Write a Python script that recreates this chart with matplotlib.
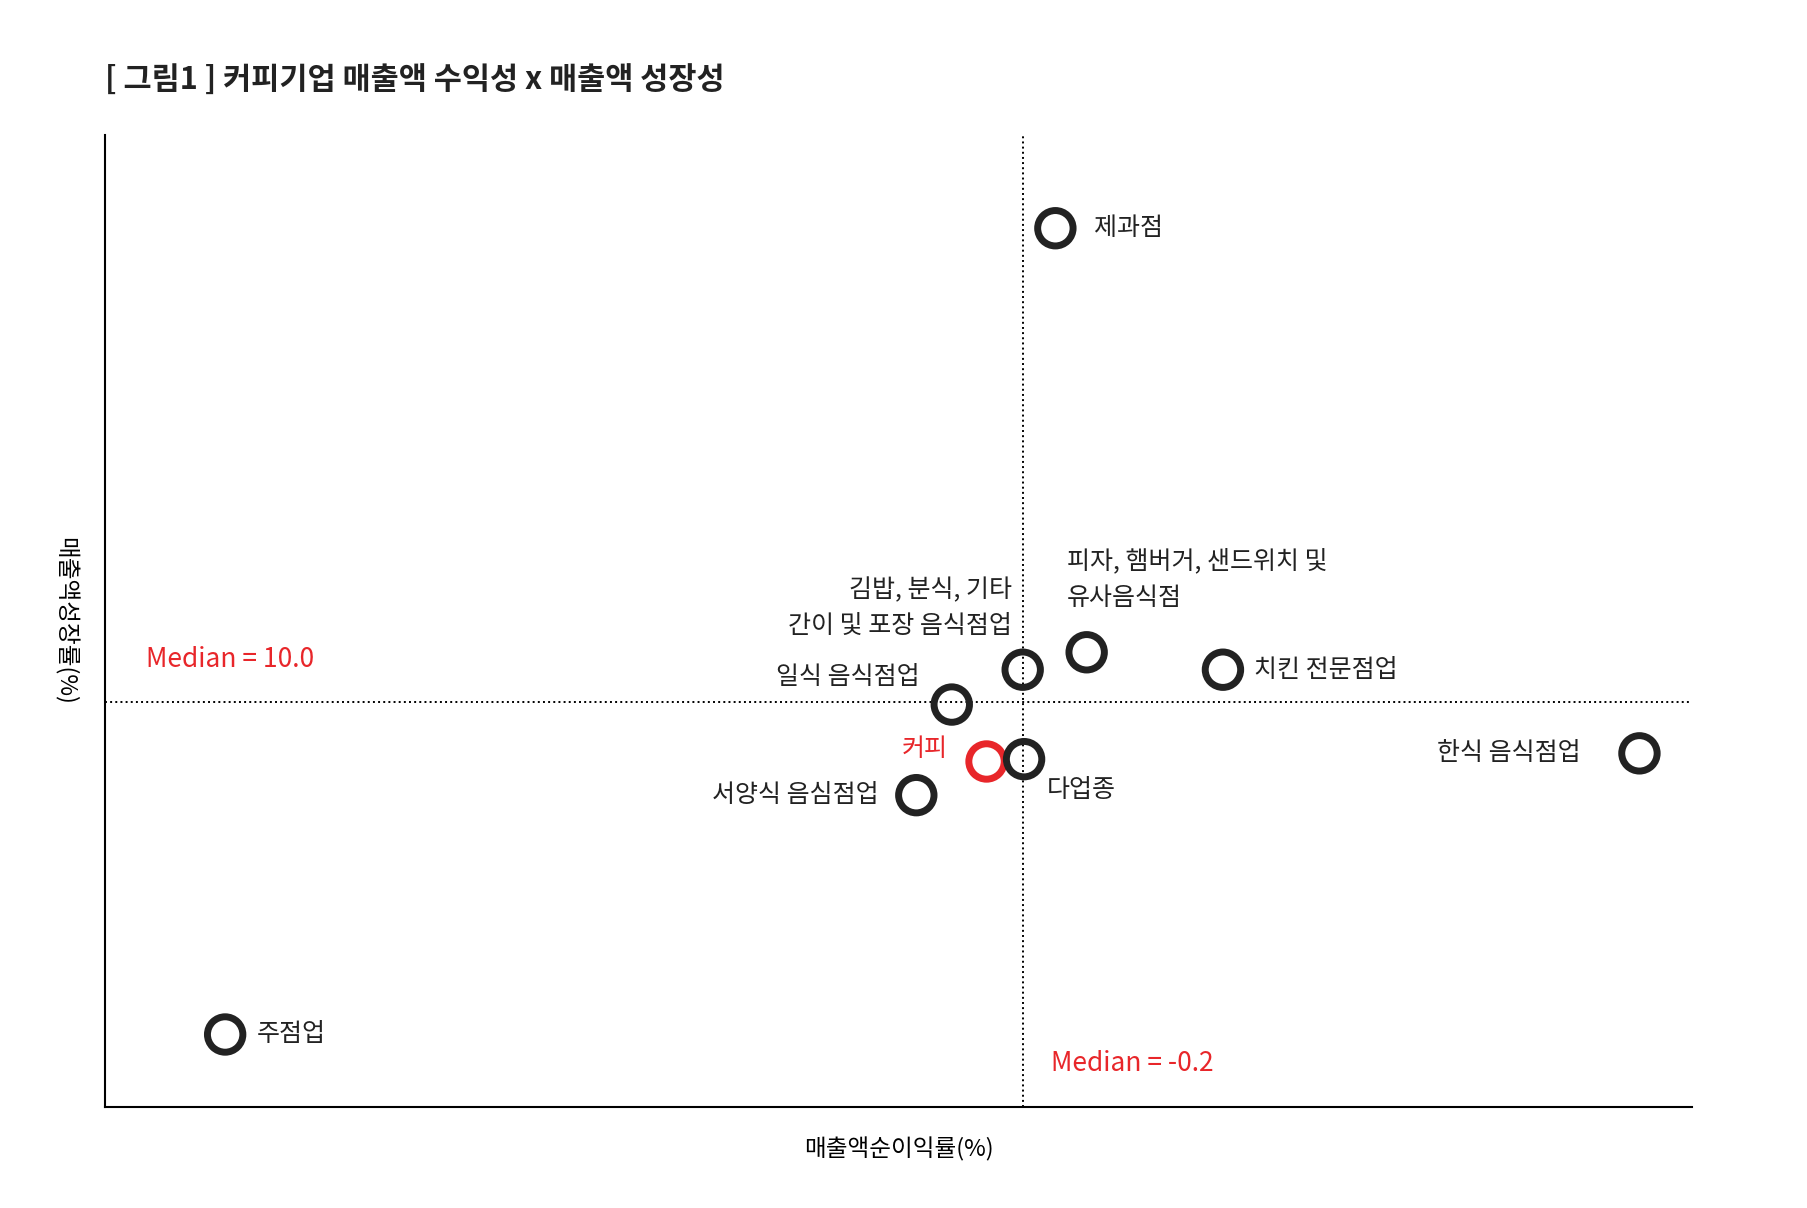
import matplotlib
matplotlib.use("Agg")
import matplotlib.pyplot as plt

plt.rcParams['font.family'] = ['Noto Sans CJK KR', 'DejaVu Sans']

# 업종별 매출액순이익률(%) / 매출액성장률(%) (그림에서 추정)
names = ['제과점', '피자, 햄버거, 샌드위치 및\n유사음식점', '김밥, 분식, 기타\n간이 및 포장 음식점업',
         '치킨 전문점업', '일식 음식점업', '커피', '다업종', '서양식 음심점업', '한식 음식점업', '주점업']
profit = [0.27, 0.72, -0.2, 2.68, -1.22, -0.72, -0.18, -1.73, 8.67, -11.67]
growth = [30.4, 12.15, 11.4, 11.4, 9.9, 7.45, 7.55, 6.0, 7.8, -4.3]
median_x = -0.2
median_y = 10.0

# label offsets (points) and alignment
offsets = [(28, 0, 'left', 'center'), (-14, 30, 'left', 'bottom'), (-8, 22, 'right', 'bottom'),
           (22, 0, 'left', 'center'), (-23, 20, 'right', 'center'), (-28, 9, 'right', 'center'),
           (16, -22, 'left', 'center'), (-27, 0, 'right', 'center'), (-42, 0, 'right', 'center'),
           (23, 0, 'left', 'center')]

red = '#e8262a'
dark = '#222222'

fig = plt.figure(figsize=(18.08, 12.08), dpi=100)
ax = fig.add_axes([0.058, 0.084, 0.878, 0.804])

ax.axvline(median_x, color='black', ls=':', lw=1.4, zorder=1)
ax.axhline(median_y, color='black', ls=':', lw=1.4, zorder=1)

for n, x, y, (dx, dy, ha, va) in zip(names, profit, growth, offsets):
    c = red if n == '커피' else dark
    ax.scatter(x, y, s=650, facecolor='none', edgecolor=c, linewidth=5, zorder=3)
    ax.annotate(n, (x, y), xytext=(dx, dy), textcoords='offset points', ha=ha, va=va,
                multialignment=ha, fontsize=18, color=red if n == '커피' else '#222222',
                linespacing=1.5)

ax.text(0.026, 0.46, 'Median = 10.0', transform=ax.transAxes, color=red, fontsize=19, va='center')
ax.text(0.596, 0.044, 'Median = -0.2', transform=ax.transAxes, color=red, fontsize=19, va='center')

ax.set_xlim(-13.4, 9.43)
ax.set_ylim(-7.4, 34.4)
ax.set_xticks([])
ax.set_yticks([])
for s in ['top', 'right']:
    ax.spines[s].set_visible(False)
ax.spines['left'].set_linewidth(1.5)
ax.spines['bottom'].set_linewidth(1.5)

ax.set_xlabel('매출액순이익률(%)', fontsize=17, labelpad=22)
ax.set_ylabel('매출액성장률(%)', fontsize=17, rotation=270, labelpad=-10)
ax.yaxis.set_label_coords(-0.033, 0.5)

fig.text(0.058, 0.933, '[ 그림1 ] 커피기업 매출액 수익성 x 매출액 성장성', fontsize=22,
         fontweight='bold', va='center', color='#222222')

fig.savefig('out.png', dpi=100)
